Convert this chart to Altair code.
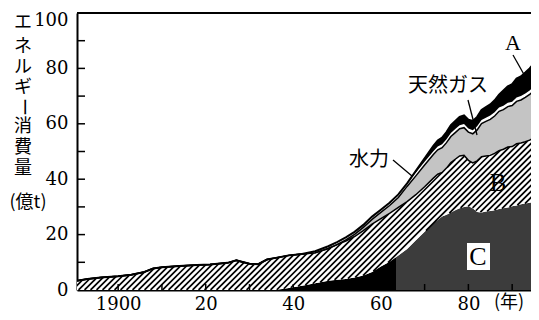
import numpy as np
import altair as alt
import pandas as pd

# ---------------- data (億t) ----------------
years = [1890, 1893, 1896, 1900, 1903, 1906, 1908, 1910, 1914, 1918, 1921, 1925,
         1927, 1928, 1930, 1932, 1934, 1936, 1939, 1942, 1945, 1948, 1950, 1952,
         1954, 1956, 1958, 1960, 1962, 1964, 1966, 1968, 1970, 1972, 1973, 1974,
         1975, 1976, 1977, 1978, 1979, 1980, 1981, 1982, 1983, 1984, 1985, 1986,
         1987, 1988, 1989, 1990, 1991, 1992, 1993, 1994, 1995, 1996]

# C (bottom, dark)
series_C = [0, 0, 0, 0, 0, 0, 0, 0, 0, 0, 0, 0,
            0, 0, 0, 0, 0, 0, 0.7, 1.5, 2.4, 3.3, 3.7, 4.0,
            4.5, 5.2, 6.5, 8.5, 10.2, 12.5, 14.8, 18.0, 21.0, 24.0, 25.3, 26.5,
            27.2, 28.0, 28.8, 29.5, 30.0, 30.2, 29.5, 28.2, 28.0, 28.3, 28.5, 28.8,
            29.2, 29.5, 29.8, 30.2, 30.5, 31.0, 31.2, 31.5, 31.8, 32.0]
# B (hatched)
series_B = [3.2, 4.0, 4.5, 5.0, 5.5, 6.5, 7.8, 8.2, 8.7, 9.0, 9.2, 9.8,
            10.7, 10.3, 9.5, 9.3, 11.0, 11.6, 11.8, 11.5, 11.0, 11.7, 12.7, 13.7,
            14.8, 16.2, 17.3, 17.3, 17.5, 17.3, 17.1, 16.4, 16.3, 16.4, 16.5, 15.9,
            16.8, 18.0, 18.4, 18.9, 18.6, 16.6, 16.4, 18.4, 20.1, 20.1, 20.1, 20.5,
            21.1, 21.3, 21.8, 21.6, 22.3, 22.1, 22.3, 22.6, 23.3, 23.6]
# 天然ガス
series_gas = [0, 0, 0, 0, 0, 0, 0, 0, 0, 0, 0, 0,
              0, 0, 0, 0, 0, 0, 0, 0, 0, 0, 0, 0.4,
              0.8, 1.2, 1.7, 2.2, 2.8, 3.6, 5.5, 6.8, 7.8, 8.5, 8.8, 9.0,
              9.2, 9.4, 9.6, 9.8, 10.0, 10.2, 10.5, 11.2, 12.0, 12.5, 13.0, 13.5,
              14.2, 14.3, 14.6, 14.8, 15.3, 15.5, 16.0, 16.5, 17.0, 17.5]
# 水力
series_hydro = [0, 0, 0, 0, 0, 0, 0, 0, 0, 0, 0, 0,
                0, 0, 0, 0, 0, 0, 0, 0, 0.6, 0.8, 0.9, 0.9,
                0.9, 0.9, 1.0, 1.0, 1.0, 1.1, 1.1, 1.2, 1.2, 1.2, 1.2, 1.2,
                1.2, 1.3, 1.3, 1.3, 1.3, 1.3, 1.3, 1.3, 1.3, 1.3, 1.4, 1.4,
                1.4, 1.4, 1.4, 1.4, 1.4, 1.4, 1.4, 1.4, 1.4, 1.4]
# A (top, black)
series_A = [0, 0, 0, 0, 0, 0, 0, 0, 0, 0, 0, 0,
            0, 0, 0, 0, 0, 0, 0, 0, 0, 0, 0, 0,
            0, 0, 0, 0, 0, 0, 0, 0.6, 1.2, 1.9, 2.2, 2.4,
            2.6, 2.8, 2.9, 3.0, 3.1, 3.2, 3.3, 3.4, 3.6, 3.8, 4.0, 4.3,
            4.6, 5.5, 5.9, 6.3, 6.8, 7.1, 7.6, 8.0, 8.4, 8.9]

x_tick_years = [1900, 1910, 1920, 1930, 1940, 1950, 1960, 1970, 1980, 1990]
x_label_years = [1900, 1920, 1940, 1960, 1980]
y_tick_values = [10, 20, 30, 40, 50, 60, 70, 80, 90]
y_label_values = [0, 20, 40, 60, 80, 100]
c_black_until = 1963.5

# ---------------- layout ----------------
W, H = 454, 277
X0, X1 = 1890.6, 1994.3
SERIF = "DejaVu Serif"
JP = "Noto Sans CJK JP"

df = pd.DataFrame({"year": years, "C": series_C, "B": series_B, "G": series_gas,
                   "Hy": series_hydro, "A": series_A})
df["base"] = 0.0
df["c_top"] = df["C"]
df["b_top"] = df["c_top"] + df["B"]
df["g_top"] = df["b_top"] + df["G"]
df["h_top"] = df["g_top"] + df["Hy"]
df["a_top"] = df["h_top"] + df["A"]

xscale = alt.Scale(domain=[X0, X1], nice=False, zero=False)
yscale = alt.Scale(domain=[0, 100], nice=False)

xaxis = alt.Axis(values=x_label_years, title=None, grid=False, ticks=False, tickSize=0,
                 labelExpr="datum.value == 1900 ? '1900' : toString(datum.value - 1900)",
                 labelFont=SERIF, labelFontSize=18, labelColor="black", labelPadding=5,
                 domainColor="black", domainWidth=2, labelFlush=False)
yaxis = alt.Axis(values=y_label_values, title=None, grid=False, ticks=False, tickSize=0,
                 labelFont=SERIF, labelFontSize=18, labelColor="black", labelPadding=9,
                 labelOffset={"condition": {"test": "datum.value == 100", "value": 7}, "value": 0},
                 domainColor="black", domainWidth=2)


def X(field="year"):
    return alt.X(f"{field}:Q", scale=xscale, axis=xaxis)


def Y(field):
    return alt.Y(f"{field}:Q", scale=yscale, axis=yaxis)


# ---- 45-degree hatch segments inside band B (geometry derived from the band) ----
ppy = W / (X1 - X0)
px_years = (np.array(years, dtype=float) - X0) * ppy
up_px = H - df["b_top"].to_numpy() * H / 100.0
lo_px = H - df["c_top"].to_numpy() * H / 100.0
xs = np.arange(px_years[0], px_years[-1], 0.2)
U = np.interp(xs, px_years, up_px)
L = np.interp(xs, px_years, lo_px)
step = 6.0
seg = {"hx1": [], "hx2": [], "hy1": [], "hy2": []}
cmin = float(np.min(xs + U))
cmax = float(np.max(xs + L))
c = cmin + 1.0
while c < cmax:
    ly = c - xs
    inside = (ly >= U) & (ly <= L)
    idx = np.flatnonzero(inside)
    if idx.size:
        breaks = np.flatnonzero(np.diff(idx) > 1)
        starts = np.concatenate(([idx[0]], idx[breaks + 1]))
        ends = np.concatenate((idx[breaks], [idx[-1]]))
        for s0, e0 in zip(starts, ends):
            xa, xb = xs[s0], xs[e0]
            if xb - xa < 0.3:
                continue
            seg["hx1"].append(X0 + xa / ppy)
            seg["hx2"].append(X0 + xb / ppy)
            seg["hy1"].append((H - (c - xa)) * 100.0 / H)
            seg["hy2"].append((H - (c - xb)) * 100.0 / H)
    c += step
hatch_df = pd.DataFrame(seg)

f = (c_black_until - min(years)) / (max(years) - min(years))
c_fill = alt.LinearGradient(gradient="linear", x1=0, y1=0, x2=1, y2=0, stops=[
    alt.GradientStop(offset=0, color="black"), alt.GradientStop(offset=f, color="black"),
    alt.GradientStop(offset=f, color="#3c3c3c"), alt.GradientStop(offset=1, color="#3c3c3c")])

base = alt.Chart(df)

area_C = base.mark_area(fill=c_fill, clip=True).encode(x=X(), y=Y("c_top"), y2="base:Q")
area_B = base.mark_area(fill="white", clip=True).encode(x=X(), y=Y("b_top"), y2="c_top:Q")
hatch = alt.Chart(hatch_df).mark_rule(color="black", strokeWidth=1.7, clip=True).encode(
    x=X("hx1"), x2="hx2:Q", y=Y("hy1"), y2="hy2:Q")
area_G = base.mark_area(fill="#c4c4c4", clip=True).encode(x=X(), y=Y("g_top"), y2="b_top:Q")
area_H = base.mark_area(fill="white", clip=True).encode(x=X(), y=Y("h_top"), y2="g_top:Q")
area_A = base.mark_area(fill="black", clip=True).encode(x=X(), y=Y("a_top"), y2="h_top:Q")

line_B = base.mark_line(color="black", strokeWidth=1.5, clip=True).encode(x=X(), y=Y("b_top"))
line_G = base.mark_line(color="black", strokeWidth=1.5, clip=True).encode(x=X(), y=Y("g_top"))
line_T = base.mark_line(color="black", strokeWidth=2, clip=True).encode(x=X(), y=Y("a_top"))

xt = alt.Chart(pd.DataFrame({"year": x_tick_years})).mark_rule(color="black", strokeWidth=1.5).encode(
    x=X(), y=alt.value(H), y2=alt.value(H - 6))
yt = alt.Chart(pd.DataFrame({"v": y_tick_values})).mark_rule(color="black", strokeWidth=1.5).encode(
    y=Y("v"), x=alt.value(0), x2=alt.value(8))
top_border = alt.Chart(pd.DataFrame({"v": [100]})).mark_rule(color="black", strokeWidth=2).encode(
    y=Y("v"), x=alt.value(0), x2=alt.value(W))

one = pd.DataFrame({"d": [0]})


def label(text, x, y, font=JP, size=20, angle=0, color="black"):
    kw = dict(font=font, fontSize=size, color=color, align="center", baseline="middle")
    if angle:
        kw["angle"] = angle
    return alt.Chart(one).mark_text(**kw).encode(x=alt.value(x), y=alt.value(y), text=alt.value(text))


def leader(xa, ya, xb, yb):
    return alt.Chart(one).mark_rule(color="black", strokeWidth=1.3).encode(
        x=alt.value(xa), y=alt.value(ya), x2=alt.value(xb), y2=alt.value(yb))


c_box = alt.Chart(one).mark_rect(fill="white").encode(
    x=alt.value(390), x2=alt.value(413), y=alt.value(230), y2=alt.value(257))

title_chars = ["エ", "ネ", "ル", "ギ", "ー", "消", "費", "量"]
title_y = [10, 34, 55, 75, 94, 114, 135, 156]
title_layers = []
for ch, ty in zip(title_chars, title_y):
    title_layers.append(label(ch, -54, ty, size=18, angle=90 if ch == "ー" else 0))
title_layers.append(label("(億t)", -49, 190, size=18))

annotations = [
    label("A", 436, 30, font="Liberation Serif", size=22),
    leader(436, 42, 449, 65),
    label("天然ガス", 371, 73, size=20),
    leader(391, 87, 400, 122),
    label("水力", 292, 147, size=20),
    leader(316, 147, 335, 163),
    label("B", 421, 170, font="Liberation Serif", size=25),
    c_box,
    label("C", 401, 244, font="Liberation Serif", size=26),
    label("(年)", 432, 290, size=18),
]

chart = alt.layer(
    area_C, area_B, hatch, area_G, area_H, area_A, line_B, line_G, line_T,
    xt, yt, top_border, *annotations, *title_layers
).properties(
    width=W, height=H,
    autosize=alt.AutoSizeParams(type="none"),
    padding={"left": 69, "top": 5, "right": 0, "bottom": 22},
    background="white",
).configure_view(stroke=None)

chart.save("out.html", embed_options={"renderer": "svg", "actions": False})
